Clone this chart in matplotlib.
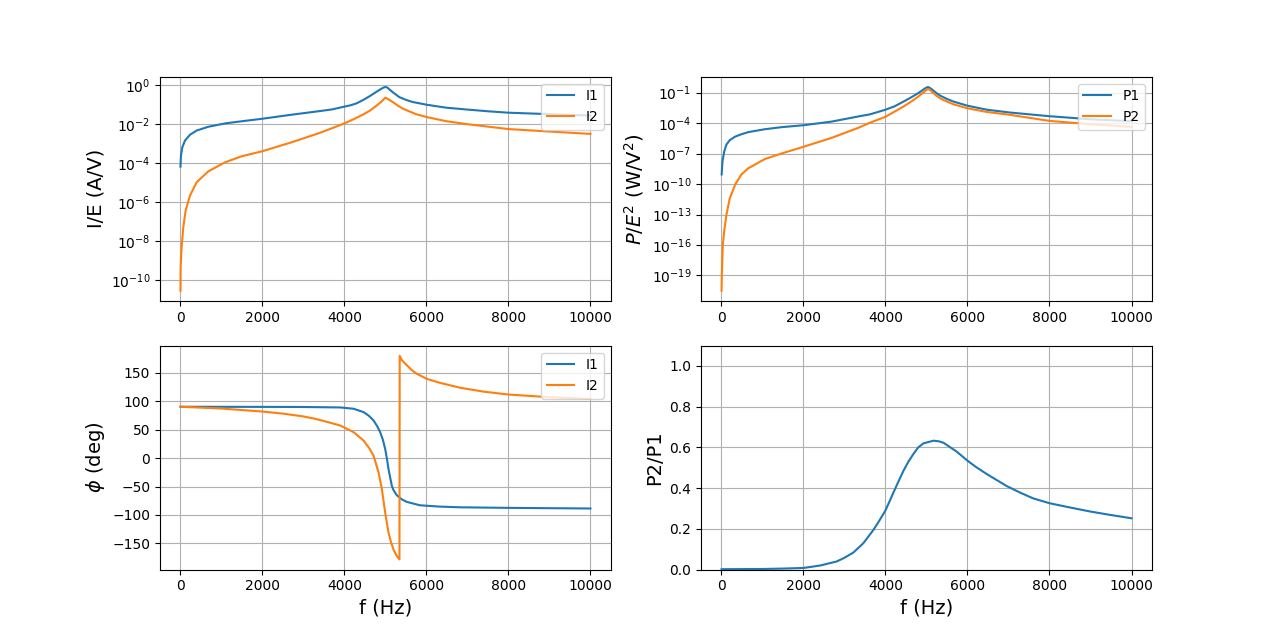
import matplotlib
matplotlib.use('Agg')
import matplotlib.pyplot as plt

# values
f_i1 = [5, 16, 49, 114, 236, 398, 683, 1089, 1496, 2000, 2715, 3366, 3700, 4000,
        4150, 4300, 4448, 4620, 4773, 4880, 4935, 5000, 5050, 5095, 5200, 5340, 5500,
        5664, 6000, 6478, 7000, 7500, 8000, 9000, 10000]
i1 = [6.5e-5, 2.4e-4, 6.3e-4, 1.41e-3, 2.8e-3, 4.6e-3, 7.2e-3, 1.07e-2, 1.38e-2,
      1.86e-2, 3.0e-2, 4.5e-2, 5.6e-2, 7.8e-2, 9.1e-2, 0.115, 0.166, 0.269, 0.437,
      0.603, 0.708, 0.794, 0.741, 0.603, 0.398, 0.240, 0.174, 0.135, 0.098, 0.069,
      0.055, 0.045, 0.038, 0.032, 0.027]

f_i2 = [5, 8, 33, 73, 130, 236, 398, 683, 1089, 1496, 2000, 2715, 3366, 3637, 4000,
        4260, 4448, 4620, 4773, 4900, 5000, 5080, 5178, 5300, 5421, 5745, 6000,
        6478, 7045, 8000, 9000, 10000]
i2 = [2.8e-11, 4.5e-10, 4.8e-9, 5.0e-8, 3.6e-7, 2.1e-6, 1.02e-5, 3.7e-5, 1.07e-4,
      2.2e-4, 4.0e-4, 1.15e-3, 3.3e-3, 5.4e-3, 1.07e-2, 1.9e-2, 3.0e-2, 4.8e-2,
      8.3e-2, 0.138, 0.224, 0.182, 0.135, 0.089, 0.062, 0.032, 0.023, 0.014,
      9.5e-3, 5.5e-3, 4.1e-3, 3.1e-3]

f_p1 = [5, 24, 65, 122, 203, 325, 488, 650, 1057, 1463, 2000, 2683, 3333, 3626,
        4000, 4220, 4439, 4600, 4764, 4870, 4967, 5033, 5080, 5130, 5230, 5333,
        5500, 5659, 6000, 6472, 7041, 8000, 9000, 10000]
p1 = [8.9e-10, 1.55e-8, 1.51e-7, 7.9e-7, 2.1e-6, 4.5e-6, 8.1e-6, 1.29e-5, 2.5e-5,
      4.0e-5, 6.2e-5, 1.41e-4, 4.5e-4, 7.4e-4, 2.1e-3, 4.5e-3, 1.32e-2, 3.0e-2,
      7.4e-2, 0.141, 0.269, 0.363, 0.302, 0.214, 0.100, 0.051, 0.024, 0.0132,
      5.2e-3, 2.1e-3, 1.1e-3, 4.8e-4, 2.4e-4, 1.55e-4]

f_p2 = [3, 8, 33, 65, 122, 203, 341, 488, 650, 1057, 1463, 2000, 2683, 3333, 3626,
        4000, 4228, 4439, 4600, 4764, 4870, 4967, 5033, 5080, 5130, 5230, 5333,
        5500, 5659, 6000, 6472, 7041, 8000, 9000, 10000]
p2 = [3.2e-21, 1.0e-19, 1.0e-16, 2.0e-15, 1.0e-13, 4.0e-12, 1.0e-10, 8.9e-10,
      3.5e-9, 2.9e-8, 1.02e-7, 4.7e-7, 3.5e-6, 3.4e-5, 1.12e-4, 4.2e-4, 1.41e-3,
      4.3e-3, 1.12e-2, 3.2e-2, 7.1e-2, 0.145, 0.229, 0.191, 0.126, 0.056, 0.0275,
      0.0132, 7.1e-3, 2.9e-3, 1.26e-3, 6.5e-4, 1.66e-4, 7.8e-5, 4.3e-5]

f_ph1 = [5, 1000, 2000, 3000, 3903, 4227, 4470, 4600, 4713, 4800, 4874, 4940,
         4996, 5040, 5077, 5120, 5158, 5200, 5279, 5400, 5522, 5846, 6332, 6818,
         8000, 10000]
ph1 = [90.0, 89.9, 89.8, 89.6, 88.8, 86.5, 80.6, 74.0, 65.9, 56.0, 45.3, 32.0,
       15.9, -2.0, -19.4, -35.0, -48.8, -56.5, -65.3, -72.5, -77.0, -83.0, -85.3,
       -86.5, -87.5, -88.6]

f_ph2 = [5, 1000, 2000, 2500, 3000, 3250, 3500, 3903, 4100, 4227, 4470, 4600, 4713,
         4834, 4915, 4996, 5040, 5077, 5140, 5198, 5270, 5344, 5350, 5400, 5522,
         5650, 5765, 6008, 6332, 6818, 7400, 8000, 9000, 10000]
ph2 = [90.0, 86.9, 81.6, 78.0, 73.0, 69.5, 65.0, 57.0, 50.0, 45.3, 30.6, 18.0, 4.1,
       -25.3, -54.7, -95.9, -115.0, -131.0, -148.0, -160.6, -171.0, -178.0, 179.5,
       172.0, 163.0, 154.0, 148.0, 139.0, 132.0, 123.5, 116.5, 111.5, 106.8, 103.9]

f_ratio = [5, 1000, 1500, 2000, 2407, 2813, 3000, 3220, 3463, 3707, 3850, 4000,
           4100, 4195, 4300, 4439, 4560, 4683, 4800, 4927, 5171, 5300, 5415, 5740,
           6000, 6200, 6472, 6959, 7285, 7600, 8000, 8500, 9000, 9500, 10000]
ratio = [0.002, 0.003, 0.005, 0.008, 0.020, 0.040, 0.058, 0.084, 0.130, 0.195,
         0.240, 0.290, 0.335, 0.378, 0.425, 0.485, 0.530, 0.568, 0.600, 0.620,
         0.633, 0.630, 0.623, 0.579, 0.535, 0.505, 0.469, 0.410, 0.378, 0.350,
         0.326, 0.305, 0.285, 0.268, 0.252]

fig, axs = plt.subplots(2, 2, figsize=(12.8, 6.4))

ax = axs[0, 0]
ax.semilogy(f_i1, i1, label='I1')
ax.semilogy(f_i2, i2, label='I2')
ax.set_ylabel('I/E (A/V)', fontsize=14)
ax.legend(loc='upper right')
ax.grid()

ax = axs[0, 1]
ax.semilogy(f_p1, p1, label='P1')
ax.semilogy(f_p2, p2, label='P2')
ax.set_ylabel('$P/E^2$ (W/V$^2$)', fontsize=14)
ax.legend(loc='upper right')
ax.grid()

ax = axs[1, 0]
ax.plot(f_ph1, ph1, label='I1')
ax.plot(f_ph2, ph2, label='I2')
ax.set_ylabel(r'$\phi$ (deg)', fontsize=14)
ax.set_xlabel('f (Hz)', fontsize=14)
ax.legend(loc='upper right')
ax.grid()

ax = axs[1, 1]
ax.plot(f_ratio, ratio)
ax.set_ylim(0, 1.1)
ax.set_ylabel('P2/P1', fontsize=14)
ax.set_xlabel('f (Hz)', fontsize=14)
ax.grid()

plt.savefig('out.png', dpi=100)
